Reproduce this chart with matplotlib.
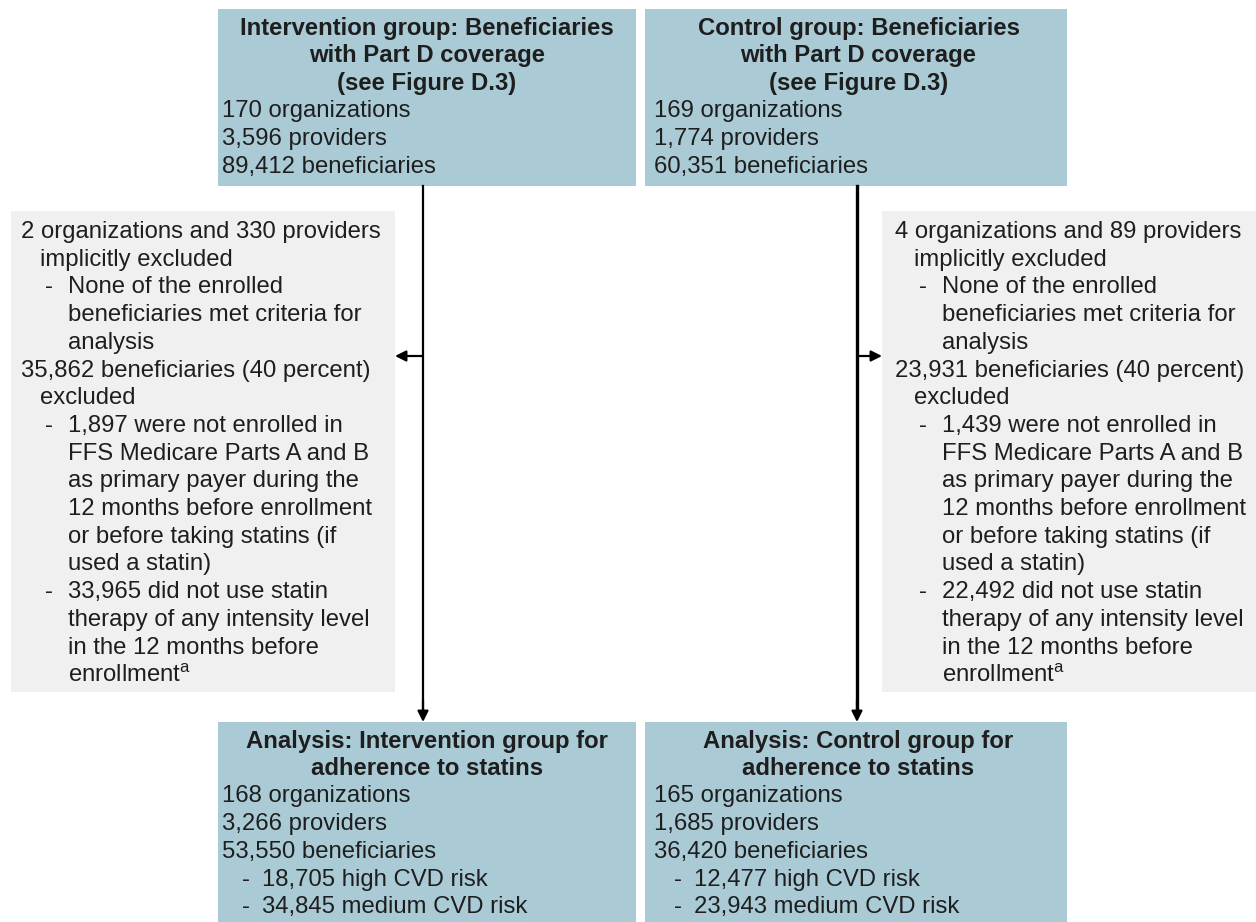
import matplotlib.pyplot as plt
from matplotlib.patches import Rectangle

plt.rcParams['font.family'] = ['Liberation Sans', 'DejaVu Sans']
plt.rcParams['mathtext.fontset'] = 'custom'
plt.rcParams['mathtext.rm'] = 'Liberation Sans'

# box contents
top_left_head = ["Intervention group: Beneficiaries", "with Part D coverage", "(see Figure D.3)"]
top_left_body = ["170 organizations", "3,596 providers", "89,412 beneficiaries"]
top_right_head = ["Control group: Beneficiaries", "with Part D coverage", "(see Figure D.3)"]
top_right_body = ["169 organizations", "1,774 providers", "60,351 beneficiaries"]

# exclusion boxes: (indent level, text) ; 0 = flush, 1 = hanging, 2 = dash, 3 = under dash
excl_left = [
    (0, "2 organizations and 330 providers"),
    (1, "implicitly excluded"),
    (2, "None of the enrolled"),
    (3, "beneficiaries met criteria for"),
    (3, "analysis"),
    (0, "35,862 beneficiaries (40 percent)"),
    (1, "excluded"),
    (2, "1,897 were not enrolled in"),
    (3, "FFS Medicare Parts A and B"),
    (3, "as primary payer during the"),
    (3, "12 months before enrollment"),
    (3, "or before taking statins (if"),
    (3, "used a statin)"),
    (2, "33,965 did not use statin"),
    (3, "therapy of any intensity level"),
    (3, "in the 12 months before"),
    (3, "enrollment$^{\\mathrm{a}}$"),
]
excl_right = [
    (0, "4 organizations and 89 providers"),
    (1, "implicitly excluded"),
    (2, "None of the enrolled"),
    (3, "beneficiaries met criteria for"),
    (3, "analysis"),
    (0, "23,931 beneficiaries (40 percent)"),
    (1, "excluded"),
    (2, "1,439 were not enrolled in"),
    (3, "FFS Medicare Parts A and B"),
    (3, "as primary payer during the"),
    (3, "12 months before enrollment"),
    (3, "or before taking statins (if"),
    (3, "used a statin)"),
    (2, "22,492 did not use statin"),
    (3, "therapy of any intensity level"),
    (3, "in the 12 months before"),
    (3, "enrollment$^{\\mathrm{a}}$"),
]

bot_left_head = ["Analysis: Intervention group for", "adherence to statins"]
bot_left_body = [(0, "168 organizations"), (0, "3,266 providers"), (0, "53,550 beneficiaries"),
                 (2, "18,705 high CVD risk"), (2, "34,845 medium CVD risk")]
bot_right_head = ["Analysis: Control group for", "adherence to statins"]
bot_right_body = [(0, "165 organizations"), (0, "1,685 providers"), (0, "36,420 beneficiaries"),
                  (2, "12,477 high CVD risk"), (2, "23,943 medium CVD risk")]

BLUE = '#aacbd6'
GREY = '#f0f0f0'
INK = '#1e1e1e'
FS = 17.2
LH = 27.7

fig = plt.figure(figsize=(12.56, 9.22), dpi=100)
ax = fig.add_axes([0, 0, 1, 1])
ax.set_xlim(0, 1256)
ax.set_ylim(922, 0)
ax.axis('off')


def box(x0, y0, x1, y1, color):
    ax.add_patch(Rectangle((x0, y0), x1 - x0, y1 - y0, facecolor=color, edgecolor='none', zorder=1))


def flow_box(x0, x1, y_first, head, body, dash_dx=20, text_dx=40):
    cx = (x0 + x1) / 2
    y = y_first
    for line in head:
        ax.text(cx, y, line, ha='center', va='center', fontsize=FS, fontweight='bold', color=INK, zorder=3)
        y += LH
    for item in body:
        if isinstance(item, tuple):
            lvl, line = item
        else:
            lvl, line = 0, item
        if lvl == 2:
            ax.text(x0 + 4 + dash_dx, y, "-", ha='left', va='center', fontsize=FS, color=INK, zorder=3)
            ax.text(x0 + 4 + text_dx, y, line, ha='left', va='center', fontsize=FS, color=INK, zorder=3)
        else:
            ax.text(x0 + 4, y, line, ha='left', va='center', fontsize=FS, color=INK, zorder=3)
        y += LH


def excl_box(x_text, y_first, lines):
    offs = {0: 0, 1: 19, 2: 24, 3: 47}
    y = y_first
    for lvl, line in lines:
        if lvl == 2:
            ax.text(x_text + offs[2], y, "-", ha='left', va='center', fontsize=FS, color=INK, zorder=3)
            ax.text(x_text + offs[3], y, line, ha='left', va='center', fontsize=FS, color=INK, zorder=3)
        else:
            ax.text(x_text + offs[lvl], y, line, ha='left', va='center', fontsize=FS, color=INK, zorder=3)
        y += LH


# boxes
box(218, 9, 636, 186, BLUE)
box(645, 9, 1067, 186, BLUE)
box(11, 211, 395, 692, GREY)
box(882, 211, 1256, 692, GREY)
box(218, 722, 636, 922, BLUE)
box(645, 722, 1067, 922, BLUE)

flow_box(218, 636, 28, top_left_head, top_left_body)
flow_box(650, 1067, 28, top_right_head, top_right_body)
excl_box(21, 232, excl_left)
excl_box(895, 232, excl_right)
flow_box(218, 636, 741, bot_left_head, bot_left_body)
flow_box(650, 1067, 741, bot_right_head, bot_right_body)

# connectors
arrow = dict(arrowstyle='-|>', color='black', lw=1.6, mutation_scale=16, shrinkA=0, shrinkB=0)
ax.plot([423, 423], [186, 712], color='black', lw=1.6, zorder=2)
ax.plot([857, 857], [186, 712], color='black', lw=2.4, zorder=2)
ax.annotate('', xy=(423, 722), xytext=(423, 700), arrowprops=arrow)
ax.annotate('', xy=(857, 722), xytext=(857, 700), arrowprops=arrow)
ax.annotate('', xy=(395, 356), xytext=(423, 356), arrowprops=arrow)
ax.annotate('', xy=(882, 356), xytext=(857, 356), arrowprops=arrow)

fig.savefig('out.png', dpi=100)
